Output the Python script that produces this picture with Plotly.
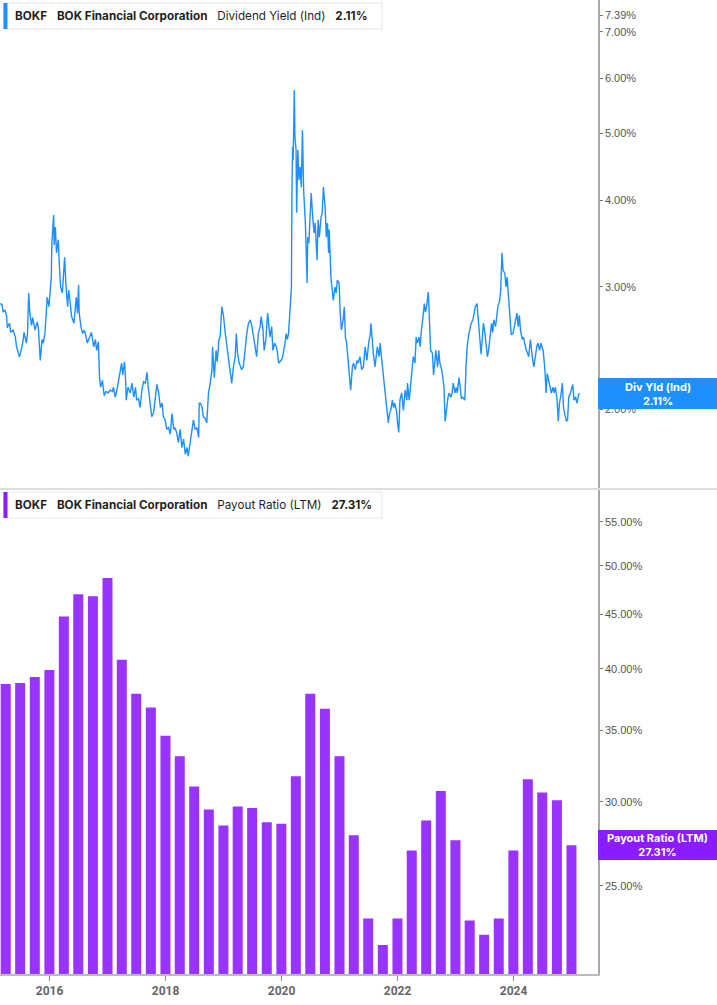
import plotly.graph_objects as go
import pandas as pd

W, H = 717, 1005

# ---------------- data ----------------
# Dividend Yield (Ind), % — time as decimal year
yield_t = [
    2015.15, 2015.18, 2015.20, 2015.23, 2015.26, 2015.27, 2015.31, 2015.33, 2015.37, 2015.41,
    2015.43, 2015.48, 2015.50, 2015.54, 2015.56, 2015.60, 2015.62, 2015.64, 2015.66, 2015.69,
    2015.71, 2015.75, 2015.77, 2015.79, 2015.81, 2015.84, 2015.87, 2015.89, 2015.92, 2015.95,
    2015.96, 2015.99, 2016.01, 2016.03, 2016.04, 2016.06, 2016.07, 2016.08, 2016.10, 2016.12,
    2016.15, 2016.17, 2016.19, 2016.22, 2016.24, 2016.26, 2016.28, 2016.31, 2016.33, 2016.35,
    2016.38, 2016.42, 2016.46, 2016.48, 2016.50, 2016.51, 2016.54, 2016.57, 2016.60, 2016.63,
    2016.65, 2016.69, 2016.72, 2016.76, 2016.79, 2016.81, 2016.84, 2016.86, 2016.88, 2016.91,
    2016.94, 2016.97, 2017.01, 2017.04, 2017.08, 2017.10, 2017.13, 2017.16, 2017.19, 2017.22,
    2017.24, 2017.26, 2017.29, 2017.31, 2017.32, 2017.35, 2017.39, 2017.42, 2017.45, 2017.48,
    2017.50, 2017.53, 2017.56, 2017.59, 2017.62, 2017.65, 2017.68, 2017.70, 2017.73, 2017.76,
    2017.79, 2017.82, 2017.85, 2017.88, 2017.91, 2017.94, 2017.96, 2017.99, 2018.02, 2018.05,
    2018.08, 2018.11, 2018.14, 2018.16, 2018.19, 2018.22, 2018.25, 2018.28, 2018.31, 2018.34,
    2018.37, 2018.39, 2018.42, 2018.45, 2018.48, 2018.51, 2018.54, 2018.57, 2018.58,
    2018.60, 2018.63, 2018.65, 2018.68, 2018.71, 2018.74, 2018.77, 2018.80, 2018.81, 2018.84,
    2018.87, 2018.89, 2018.92, 2018.94, 2018.97, 2019.00, 2019.03, 2019.06, 2019.08, 2019.11,
    2019.14, 2019.17, 2019.20, 2019.22, 2019.24, 2019.27, 2019.31, 2019.34, 2019.37, 2019.40,
    2019.43, 2019.46, 2019.49, 2019.51, 2019.54, 2019.57, 2019.60, 2019.63, 2019.65, 2019.68,
    2019.70, 2019.73, 2019.76, 2019.78, 2019.80, 2019.83, 2019.85, 2019.88, 2019.91, 2019.93,
    2019.95, 2019.99, 2020.02, 2020.06, 2020.08, 2020.10, 2020.12, 2020.15, 2020.17, 2020.18,
    2020.19, 2020.20, 2020.22, 2020.23, 2020.25, 2020.26, 2020.28, 2020.30, 2020.32, 2020.34,
    2020.36, 2020.38, 2020.39, 2020.41, 2020.44, 2020.45, 2020.47, 2020.49, 2020.51, 2020.54,
    2020.56, 2020.58, 2020.61, 2020.63, 2020.65, 2020.68, 2020.70, 2020.72, 2020.75, 2020.77,
    2020.79, 2020.81, 2020.82, 2020.85, 2020.87, 2020.89, 2020.92, 2020.94, 2020.96, 2020.99,
    2021.01, 2021.03, 2021.06, 2021.08, 2021.10, 2021.12, 2021.15, 2021.17, 2021.19, 2021.22,
    2021.24, 2021.27, 2021.30, 2021.32, 2021.35, 2021.38, 2021.41, 2021.44, 2021.47, 2021.50,
    2021.53, 2021.54, 2021.56, 2021.58, 2021.61, 2021.63, 2021.65, 2021.68, 2021.70, 2021.72,
    2021.75, 2021.77, 2021.79, 2021.82, 2021.84, 2021.86, 2021.88, 2021.91, 2021.93, 2021.95,
    2021.98, 2022.00, 2022.02, 2022.04,
    2022.07, 2022.10, 2022.13, 2022.16, 2022.17, 2022.20, 2022.23, 2022.25, 2022.27, 2022.30,
    2022.32, 2022.34, 2022.37, 2022.39, 2022.41, 2022.44, 2022.46, 2022.48, 2022.50, 2022.53,
    2022.55, 2022.57, 2022.60, 2022.62, 2022.64, 2022.66, 2022.69, 2022.71, 2022.73, 2022.76,
    2022.78, 2022.80, 2022.82, 2022.85, 2022.87, 2022.89, 2022.92, 2022.94, 2022.96, 2022.99,
    2023.01, 2023.03, 2023.06, 2023.08, 2023.10, 2023.12, 2023.16, 2023.18, 2023.20, 2023.23,
    2023.25, 2023.27, 2023.30, 2023.32, 2023.34, 2023.37, 2023.39, 2023.41, 2023.44, 2023.46,
    2023.48, 2023.50, 2023.53, 2023.55, 2023.57, 2023.60, 2023.62, 2023.64, 2023.66, 2023.69,
    2023.71, 2023.73, 2023.76, 2023.78, 2023.80, 2023.82, 2023.85, 2023.87, 2023.89, 2023.92,
    2023.94, 2023.96, 2023.99, 2024.01, 2024.03, 2024.06, 2024.08, 2024.10, 2024.12, 2024.15,
    2024.17, 2024.19, 2024.22, 2024.24, 2024.26, 2024.29, 2024.31, 2024.33, 2024.35, 2024.38,
    2024.40, 2024.42, 2024.45, 2024.47, 2024.49, 2024.51, 2024.54, 2024.56, 2024.58, 2024.61,
    2024.63, 2024.65, 2024.68, 2024.70, 2024.72, 2024.75, 2024.77, 2024.79, 2024.81, 2024.84,
    2024.86, 2024.88, 2024.91, 2024.93, 2024.95, 2024.98, 2025.00, 2025.02, 2025.04, 2025.07,
    2025.09, 2025.11, 2025.13,
]
yield_pct = [
    2.84, 2.83, 2.76, 2.78, 2.72, 2.62, 2.66, 2.58, 2.60, 2.54,
    2.46, 2.38, 2.41, 2.50, 2.58, 2.49, 2.57, 2.94, 2.75, 2.64,
    2.71, 2.60, 2.64, 2.67, 2.60, 2.35, 2.52, 2.49, 2.57, 2.81,
    2.90, 2.81, 3.00, 3.10, 3.47, 3.69, 3.81, 3.45, 3.66, 3.36,
    3.51, 3.21, 3.00, 2.94, 3.10, 3.31, 3.04, 2.81, 2.97, 2.87,
    2.72, 2.66, 2.90, 2.75, 3.02, 2.75, 2.63, 2.57, 2.60, 2.54,
    2.49, 2.54, 2.58, 2.46, 2.52, 2.43, 2.50, 2.22, 2.15, 2.20,
    2.09, 2.12, 2.11, 2.13, 2.12, 2.15, 2.08, 2.13, 2.20, 2.28,
    2.33, 2.24, 2.34, 2.20, 2.06, 2.15, 2.11, 2.18, 2.08, 2.15,
    2.06, 2.07, 2.01, 2.13, 2.19, 2.18, 2.26, 2.15, 2.04, 1.95,
    1.97, 2.08, 2.17, 2.11, 2.01, 2.04, 1.95, 1.93, 1.87, 1.88,
    1.84, 1.97, 1.87, 1.88, 1.85, 1.79, 1.87, 1.76, 1.81, 1.72,
    1.76, 1.71, 1.79, 1.85, 1.93, 1.87, 1.88, 1.82, 2.04,
    2.04, 2.01, 1.95, 1.94, 1.91, 2.11, 2.18, 2.28, 2.46, 2.22,
    2.43, 2.34, 2.52, 2.54, 2.81, 2.72, 2.57, 2.46, 2.38, 2.28,
    2.18, 2.30, 2.38, 2.57, 2.41, 2.33, 2.28, 2.30, 2.46, 2.57,
    2.66, 2.69, 2.63, 2.57, 2.46, 2.38, 2.57, 2.63, 2.72, 2.60,
    2.43, 2.52, 2.75, 2.63, 2.54, 2.63, 2.43, 2.49, 2.46, 2.41,
    2.33, 2.35, 2.38, 2.49, 2.57, 2.52, 2.57, 2.81, 3.00, 4.18,
    4.78, 4.57, 5.77, 4.94, 4.73, 3.84, 4.73, 4.28, 4.47, 4.18,
    5.05, 4.14, 4.00, 3.71, 3.04, 3.54, 3.47, 3.84, 4.10, 3.75,
    3.59, 3.71, 3.28, 3.75, 3.54, 3.78, 3.84, 4.18, 3.91, 3.54,
    3.71, 3.36, 3.63, 3.10, 2.97, 2.87, 3.00, 2.94, 3.07, 3.04,
    2.75, 2.60, 2.69, 2.81, 2.54, 2.49, 2.33, 2.25, 2.13, 2.30,
    2.33, 2.28, 2.35, 2.33, 2.38, 2.28, 2.30, 2.46, 2.35, 2.49,
    2.57, 2.66, 2.49, 2.41, 2.30, 2.41, 2.46, 2.38, 2.49, 2.38,
    2.25, 2.20, 2.11, 1.97, 1.91, 1.97, 1.99, 2.06, 2.01, 2.04,
    1.99, 1.91, 1.85, 2.06,
    2.11, 1.99, 2.13, 2.06, 2.18, 2.06, 2.20, 2.28, 2.38, 2.33,
    2.54, 2.49, 2.54, 2.46, 2.60, 2.72, 2.84, 2.76, 2.81, 2.95,
    2.69, 2.43, 2.41, 2.24, 2.33, 2.43, 2.30, 2.43, 2.33, 2.28,
    2.22, 2.15, 1.92, 2.04, 2.08, 2.11, 2.08, 2.11, 2.18, 2.11,
    2.15, 2.11, 2.22, 2.15, 2.07, 2.08, 2.06, 2.30, 2.46, 2.57,
    2.63, 2.66, 2.69, 2.75, 2.81, 2.84, 2.69, 2.52, 2.40, 2.52,
    2.66, 2.60, 2.46, 2.38, 2.43, 2.54, 2.66, 2.58, 2.69, 2.63,
    2.72, 2.81, 2.87, 2.97, 3.36, 3.17, 3.14, 3.00, 3.10, 2.87,
    2.69, 2.56, 2.57, 2.63, 2.66, 2.75, 2.63, 2.73, 2.60, 2.52,
    2.54, 2.49, 2.43, 2.41, 2.38, 2.52, 2.41, 2.35, 2.30, 2.41,
    2.46, 2.49, 2.43, 2.49, 2.46, 2.43, 2.28, 2.11, 2.25, 2.20,
    2.15, 2.11, 2.15, 2.11, 2.15, 2.06, 1.92, 2.04, 2.08, 2.18,
    2.01, 1.97, 1.92, 1.93, 2.08, 2.11, 2.15, 2.17, 2.06, 2.08,
    2.04, 2.08, 2.11,
]

# Payout Ratio (LTM), % — quarterly
payout_dates = [
    "2015-03-31", "2015-06-30", "2015-09-30", "2015-12-31",
    "2016-03-31", "2016-06-30", "2016-09-30", "2016-12-31",
    "2017-03-31", "2017-06-30", "2017-09-30", "2017-12-31",
    "2018-03-31", "2018-06-30", "2018-09-30", "2018-12-31",
    "2019-03-31", "2019-06-30", "2019-09-30", "2019-12-31",
    "2020-03-31", "2020-06-30", "2020-09-30", "2020-12-31",
    "2021-03-31", "2021-06-30", "2021-09-30", "2021-12-31",
    "2022-03-31", "2022-06-30", "2022-09-30", "2022-12-31",
    "2023-03-31", "2023-06-30", "2023-09-30", "2023-12-31",
    "2024-03-31", "2024-06-30", "2024-09-30", "2024-12-31",
]
payout_pct = [
    38.7, 38.8, 39.3, 39.9, 44.8, 47.0, 46.8, 48.7,
    40.8, 37.9, 36.8, 34.6, 33.1, 31.0, 29.5, 28.5,
    29.7, 29.6, 28.7, 28.6, 31.7, 37.9, 36.7, 33.1,
    27.9, 23.3, 22.0, 23.3, 27.0, 28.8, 30.7, 27.6,
    23.2, 22.5, 23.3, 27.0, 31.5, 30.6, 30.1, 27.31,
]

yield_ticks = [2.00, 3.00, 4.00, 5.00, 6.00, 7.00, 7.39]
payout_ticks = [25.0, 30.0, 35.0, 40.0, 45.0, 50.0, 55.0]
year_ticks = ["2016", "2018", "2020", "2022", "2024"]

# ---------------- helpers ----------------
def dec_to_dt(t):
    y = int(t)
    s = pd.Timestamp(y, 1, 1)
    e = pd.Timestamp(y + 1, 1, 1)
    return s + (e - s) * (t - y)

def px(x):
    return x / W

def py(y):
    return 1 - y / H

yield_dates = [dec_to_dt(t) for t in yield_t]

BLUE = "#1E8FFF"
PURPLE = "#9933FF"
PURPLE_LBL = "#8A1CFF"
XR = ["2015-02-23", "2025-06-16"]

fig = go.Figure()
fig.add_trace(go.Scatter(x=yield_dates, y=yield_pct, mode="lines",
                         line=dict(color=BLUE, width=1.4),
                         xaxis="x", yaxis="y", showlegend=False))
fig.add_trace(go.Bar(x=payout_dates, y=payout_pct, marker=dict(color=PURPLE, line_width=0),
                     xaxis="x2", yaxis="y2", showlegend=False))

tickfont = dict(family="Liberation Sans, Arial", size=11, color="#555")

fig.update_layout(
    width=W, height=H, autosize=False,
    margin=dict(l=0, r=0, t=0, b=0),
    paper_bgcolor="white", plot_bgcolor="white",
    bargap=0.3,
    xaxis=dict(domain=[0, px(598)], range=XR, type="date", anchor="y",
               showticklabels=False, showgrid=False, zeroline=False, showline=False, ticks=""),
    yaxis=dict(domain=[py(488), 1], type="log", range=[0.1871, 0.8912], side="right",
               anchor="x", showgrid=False, zeroline=False, showline=True,
               linecolor="#aaaaaa", linewidth=1.5, ticks="outside", ticklen=3,
               tickcolor="#777", tickvals=yield_ticks,
               ticktext=[f"{v:.2f}%" for v in yield_ticks], tickfont=tickfont),
    xaxis2=dict(domain=[0, px(598)], range=XR, type="date", anchor="y2",
                showgrid=False, zeroline=False, showline=True, linecolor="#bbbbbb",
                linewidth=2, ticks="outside", ticklen=5, tickcolor="#888",
                tickvals=[f"{y}-01-01" for y in year_ticks],
                ticktext=[f"<b>{y}</b>" for y in year_ticks],
                tickfont=dict(family="Roboto, Liberation Sans", size=12, color="#666")),
    yaxis2=dict(domain=[py(974), py(490)], type="log", range=[1.3152, 1.7702], side="right",
                anchor="x2", showgrid=False, zeroline=False, showline=True,
                linecolor="#aaaaaa", linewidth=1.5, ticks="outside", ticklen=3,
                tickcolor="#777", tickvals=payout_ticks,
                ticktext=[f"{v:.2f}%" for v in payout_ticks], tickfont=tickfont),
)

shapes = []
# separator between panels
shapes.append(dict(type="line", xref="paper", yref="paper", x0=0, x1=1, y0=py(489), y1=py(489),
                   line=dict(color="#dddddd", width=2), layer="above"))
# header boxes
for top, col in [(3, BLUE), (492, PURPLE_LBL)]:
    shapes.append(dict(type="rect", xref="paper", yref="paper",
                       x0=px(3.5), x1=px(382), y0=py(top), y1=py(top + 26),
                       fillcolor="white", line=dict(color="#e6e6e6", width=1), layer="above"))
    shapes.append(dict(type="rect", xref="paper", yref="paper",
                       x0=px(3.5), x1=px(7.5), y0=py(top), y1=py(top + 26),
                       fillcolor=col, line=dict(width=0), layer="above"))
# right-side value labels
shapes.append(dict(type="rect", xref="paper", yref="paper", x0=px(598), x1=1,
                   y0=py(378), y1=py(409), fillcolor=BLUE, line=dict(width=0), layer="above"))
shapes.append(dict(type="rect", xref="paper", yref="paper", x0=px(598), x1=1,
                   y0=py(830), y1=py(860), fillcolor=PURPLE_LBL, line=dict(width=0), layer="above"))
fig.update_layout(shapes=shapes)

sp = "\u00a0\u00a0\u00a0"
hdr_font = dict(family="Inter, Liberation Sans", size=11.7, color="#1f1f1f")
anns = [
    dict(xref="paper", yref="paper", x=px(13), y=py(16), xanchor="left", yanchor="middle",
         text=f"<b>BOKF</b>{sp}<b>BOK Financial Corporation</b>{sp}Dividend Yield (Ind){sp}<b>2.11%</b>",
         showarrow=False, font=hdr_font),
    dict(xref="paper", yref="paper", x=px(13), y=py(505), xanchor="left", yanchor="middle",
         text=f"<b>BOKF</b>{sp}<b>BOK Financial Corporation</b>{sp}Payout Ratio (LTM){sp}<b>27.31%</b>",
         showarrow=False, font=hdr_font),
    dict(xref="paper", yref="paper", x=px(657.5), y=py(393.5), xanchor="center", yanchor="middle",
         text="<b>Div Yld (Ind)</b><br><b>2.11%</b>", showarrow=False,
         font=dict(family="Inter, Liberation Sans", size=11, color="white")),
    dict(xref="paper", yref="paper", x=px(657.5), y=py(845), xanchor="center", yanchor="middle",
         text="<b>Payout Ratio (LTM)</b><br><b>27.31%</b>", showarrow=False,
         font=dict(family="Inter, Liberation Sans", size=11, color="white")),
]
fig.update_layout(annotations=anns)

fig.write_html(
    "out.html",
    config={"displayModeBar": False},
    post_script="document.body.style.margin='0';document.body.style.padding='0';"
                "document.documentElement.style.overflow='hidden';",
)
